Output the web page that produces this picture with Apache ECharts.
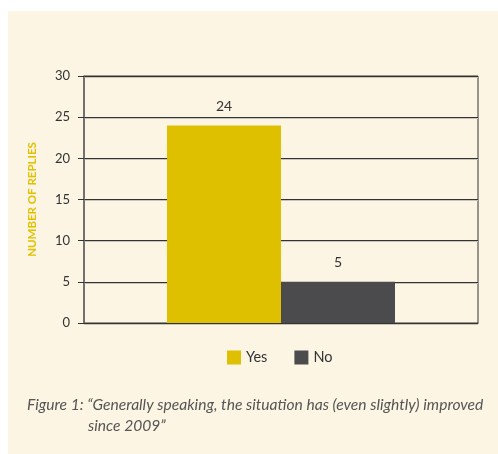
<!DOCTYPE html>
<html>
<head>
<meta charset="utf-8">
<script src="https://cdn.jsdelivr.net/npm/echarts@6/dist/echarts.min.js"></script>
<style>
html,body{margin:0;padding:0;background:#ffffff;}
#c{width:498px;height:454px;}
</style>
</head>
<body>
<div id="c"></div>
<script>
var categories = [''];
var seriesNames = ['Yes', 'No'];
var yesValues = [24];
var noValues = [5];
var yTicks = [0, 5, 10, 15, 20, 25, 30];
var yAxisTitle = 'NUMBER OF REPLIES';
var captionLine1 = 'Figure 1: \u201cGenerally speaking, the situation has (even slightly) improved';
var captionLine2 = 'since 2009\u201d';

var chart = echarts.init(document.getElementById('c'));
var font = 'Lato, "Open Sans", sans-serif';
chart.setOption({
  backgroundColor: 'transparent',
  animation: false,
  textStyle: { fontFamily: font },
  graphic: [
    { type: 'rect', left: 8, top: 11, z: -10, shape: { width: 490, height: 443 }, style: { fill: '#fcf5e4' } },
    { type: 'text', left: 27, top: 397, style: { text: captionLine1, font: 'italic 15.6px ' + font, fill: '#555555' } },
    { type: 'text', left: 88, top: 418, style: { text: captionLine2, font: 'italic 15.6px ' + font, fill: '#555555' } }
  ],
  grid: { left: 84, top: 76, right: 20, bottom: 131, show: true, borderColor: '#333333', borderWidth: 1, backgroundColor: 'transparent' },
  legend: {
    data: seriesNames, left: 222, top: 345, icon: 'rect', itemWidth: 14, itemHeight: 14, itemGap: 27,
    textStyle: { fontSize: 14.5, color: '#333333', fontFamily: font }
  },
  xAxis: {
    type: 'category', data: categories,
    axisLine: { show: true, lineStyle: { color: '#333333' } },
    axisTick: { show: false }, axisLabel: { show: false }
  },
  yAxis: {
    type: 'value', min: yTicks[0], max: yTicks[yTicks.length - 1], interval: 5,
    name: yAxisTitle, nameLocation: 'middle', nameRotate: 90, nameGap: 46,
    nameTextStyle: { color: '#e0c000', fontSize: 11.5, fontWeight: 'bold', fontFamily: font },
    axisLine: { show: true, lineStyle: { color: '#666666', width: 1.5 } },
    axisTick: { show: true, length: 6, lineStyle: { color: '#333333' } },
    axisLabel: { margin: 14, fontSize: 13, color: '#333333', fontFamily: font },
    splitLine: { show: true, lineStyle: { color: '#333333', width: 1, shadowColor: '#c8c4b8', shadowOffsetY: 1, shadowBlur: 0 } }
  },
  series: [
    { name: seriesNames[0], type: 'bar', data: yesValues, barWidth: 114, barGap: '0%', itemStyle: { color: '#dfc000' },
      label: { show: true, position: 'top', distance: 12, fontSize: 14, color: '#333333', fontFamily: font } },
    { name: seriesNames[1], type: 'bar', data: noValues, barWidth: 114, barGap: '0%', itemStyle: { color: '#4b4b4d' },
      label: { show: true, position: 'top', distance: 12, fontSize: 14, color: '#333333', fontFamily: font } }
  ]
});
</script>
</body>
</html>
